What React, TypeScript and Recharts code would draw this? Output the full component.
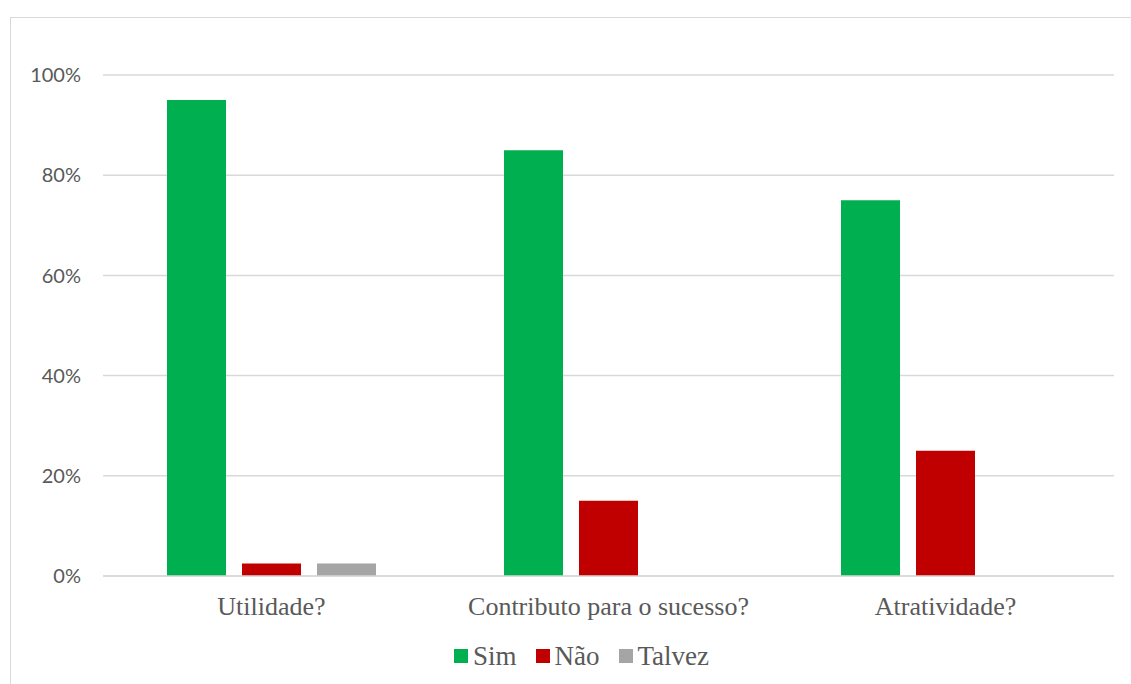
import React from 'react';
import { BarChart, Bar, XAxis, YAxis, CartesianGrid, Legend } from 'recharts';

const categories = ['Utilidade?', 'Contributo para o sucesso?', 'Atratividade?'];
const simValues = [95, 85, 75];
const naoValues = [2.5, 15, 25];
const talvezValues = [2.5, 0, 0];
const yTicks = [0, 20, 40, 60, 80, 100];

const seriesDefs = [
  { key: 'Sim', color: '#00B050' },
  { key: 'Não', color: '#C00000' },
  { key: 'Talvez', color: '#A5A5A5' },
];

const data = categories.map((c, i) => ({
  name: c,
  Sim: simValues[i],
  'Não': naoValues[i],
  Talvez: talvezValues[i],
}));

const SERIF = "'Liberation Serif', 'Times New Roman', serif";

const LegendContent = () => (
  <div style={{ display: 'flex', alignItems: 'center', whiteSpace: 'nowrap' }}>
    {seriesDefs.map((s, i) => (
      <div key={s.key} style={{ display: 'flex', alignItems: 'center', marginRight: i < seriesDefs.length - 1 ? 19 : 0 }}>
        <div style={{ width: 14, height: 14, background: s.color, marginRight: 5 }} />
        <span style={{ fontFamily: SERIF, fontSize: 27, color: '#595959', lineHeight: '30px' }}>{s.key}</span>
      </div>
    ))}
  </div>
);

export default function App() {
  return (
    <div style={{ position: 'fixed', left: 0, top: 0, width: 1131, height: 684, overflow: 'hidden', background: '#fff' }}>
      <div style={{ position: 'absolute', left: 10, top: 17, width: 1300, height: 900, border: '1.5px solid #D9D9D9', boxSizing: 'border-box' }} />
      <div style={{ position: 'absolute', left: 0, top: 0 }}>
        <BarChart
          width={1131}
          height={684}
          data={data}
          margin={{ top: 75, right: 17, bottom: 38, left: 1 }}
          barCategoryGap={64}
          barGap={16}
        >
          <CartesianGrid vertical={false} stroke="#D9D9D9" strokeWidth={1.5} />
          <XAxis
            dataKey="name"
            height={40}
            axisLine={{ stroke: '#D9D9D9', strokeWidth: 1.5 }}
            tickLine={false}
            tickMargin={15}
            tick={{ fill: '#595959', fontSize: 26, fontFamily: SERIF }}
            interval={0}
          />
          <YAxis
            width={102}
            domain={[0, 100]}
            ticks={yTicks}
            axisLine={false}
            tickLine={false}
            tickMargin={16}
            tickFormatter={(v: number) => `${v}%`}
            tick={{ fill: '#595959', fontSize: 20, fontFamily: 'Lato, sans-serif' }}
          />
          <Legend
            verticalAlign="bottom"
            content={() => <LegendContent />}
            wrapperStyle={{ top: 641, left: 454, width: 320 }}
          />
          {seriesDefs.map((s) => (
            <Bar key={s.key} dataKey={s.key} fill={s.color} isAnimationActive={false} />
          ))}
        </BarChart>
      </div>
    </div>
  );
}
